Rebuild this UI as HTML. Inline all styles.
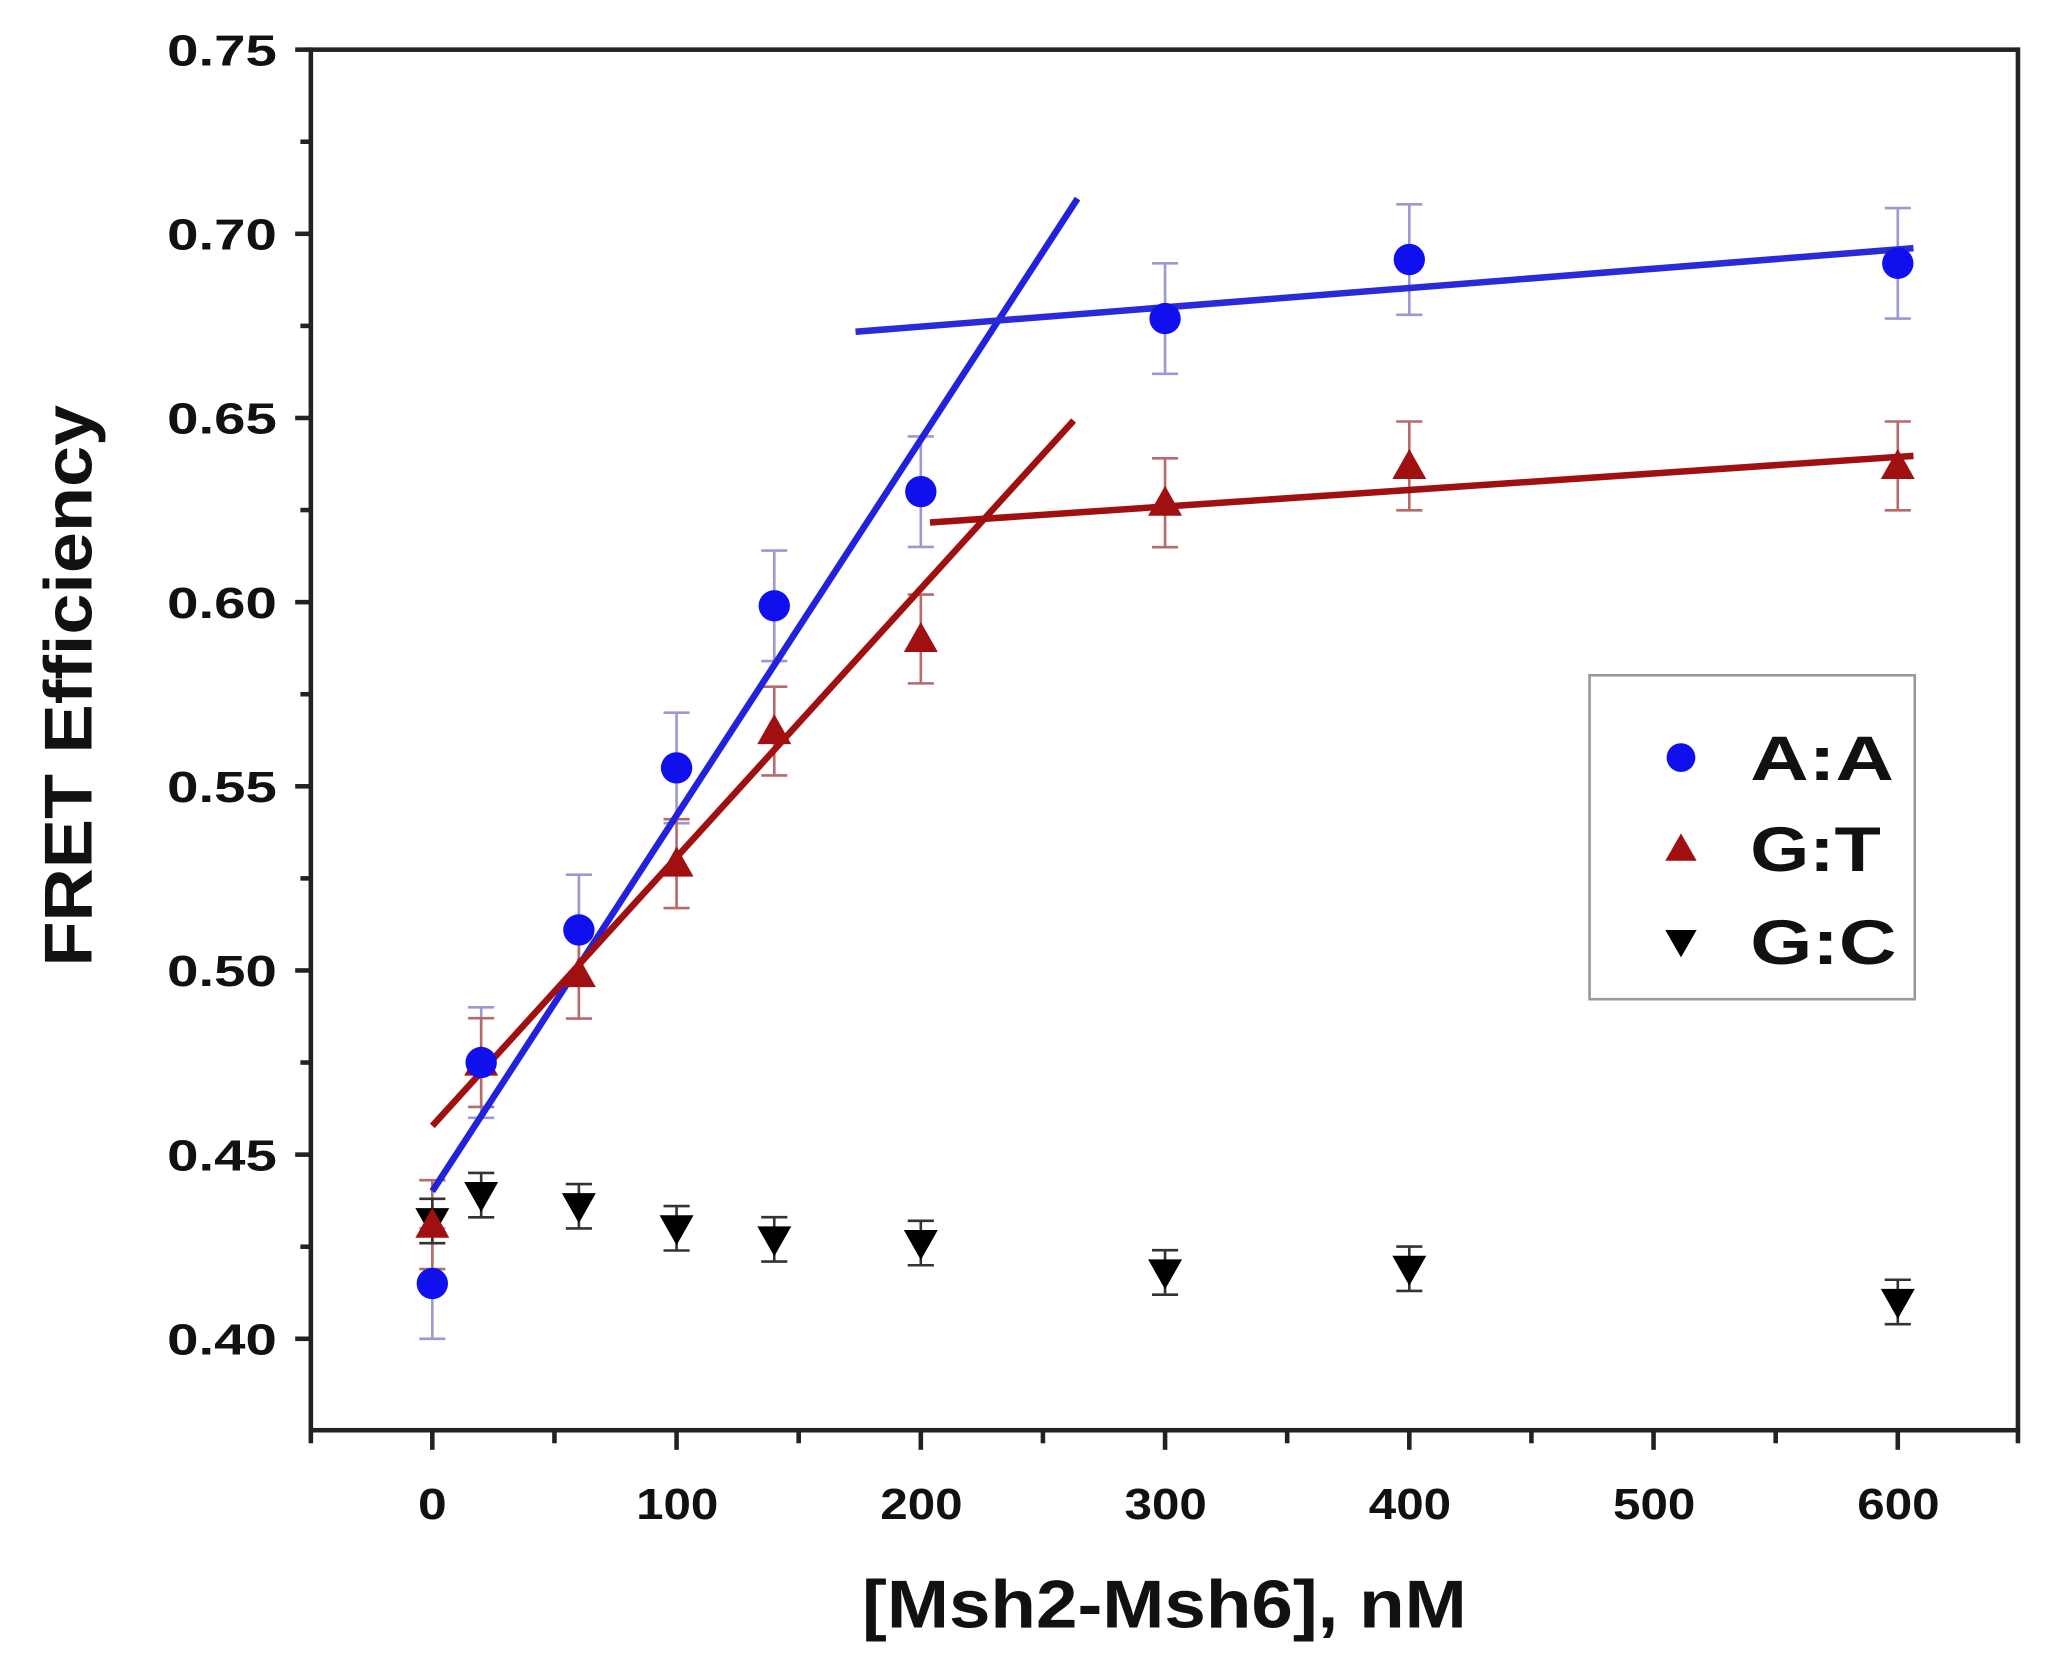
<!DOCTYPE html><html><head><style>html,body{margin:0;padding:0;background:#fff}svg{display:block}</style></head><body>
<svg width="2048" height="1675" viewBox="0 0 1568 1282.4" xmlns="http://www.w3.org/2000/svg" font-family="Liberation Sans, Arial, sans-serif" font-weight="bold">
<rect x="0" y="0" width="1568" height="1283" fill="#fff"/>
<rect x="238" y="38" width="1307" height="1057" fill="none" stroke="#222" stroke-width="3.5"/>
<g stroke="#222" stroke-width="3.5">
<line x1="226" y1="38" x2="238" y2="38"/><line x1="230" y1="108.5" x2="238" y2="108.5"/>
<line x1="226" y1="179" x2="238" y2="179"/><line x1="230" y1="249.5" x2="238" y2="249.5"/>
<line x1="226" y1="320" x2="238" y2="320"/><line x1="230" y1="390.5" x2="238" y2="390.5"/>
<line x1="226" y1="461" x2="238" y2="461"/><line x1="230" y1="531.5" x2="238" y2="531.5"/>
<line x1="226" y1="602" x2="238" y2="602"/><line x1="230" y1="672.5" x2="238" y2="672.5"/>
<line x1="226" y1="743" x2="238" y2="743"/><line x1="230" y1="813.5" x2="238" y2="813.5"/>
<line x1="226" y1="884" x2="238" y2="884"/><line x1="230" y1="954.5" x2="238" y2="954.5"/>
<line x1="226" y1="1025" x2="238" y2="1025"/>
<line x1="238" y1="1095" x2="238" y2="1105"/>
<line x1="331" y1="1095" x2="331" y2="1110"/><line x1="424.5" y1="1095" x2="424.5" y2="1105"/>
<line x1="518" y1="1095" x2="518" y2="1110"/><line x1="611.5" y1="1095" x2="611.5" y2="1105"/>
<line x1="705" y1="1095" x2="705" y2="1110"/><line x1="798.5" y1="1095" x2="798.5" y2="1105"/>
<line x1="892" y1="1095" x2="892" y2="1110"/><line x1="985.5" y1="1095" x2="985.5" y2="1105"/>
<line x1="1079" y1="1095" x2="1079" y2="1110"/><line x1="1172.5" y1="1095" x2="1172.5" y2="1105"/>
<line x1="1266" y1="1095" x2="1266" y2="1110"/><line x1="1359.5" y1="1095" x2="1359.5" y2="1105"/>
<line x1="1453" y1="1095" x2="1453" y2="1110"/><line x1="1545" y1="1095" x2="1545" y2="1105"/>
</g>
<g font-size="33" fill="#111">
<text x="128" y="50" textLength="84" lengthAdjust="spacingAndGlyphs">0.75</text>
<text x="128" y="191" textLength="84" lengthAdjust="spacingAndGlyphs">0.70</text>
<text x="128" y="332" textLength="84" lengthAdjust="spacingAndGlyphs">0.65</text>
<text x="128" y="473" textLength="84" lengthAdjust="spacingAndGlyphs">0.60</text>
<text x="128" y="614" textLength="84" lengthAdjust="spacingAndGlyphs">0.55</text>
<text x="128" y="755" textLength="84" lengthAdjust="spacingAndGlyphs">0.50</text>
<text x="128" y="896" textLength="84" lengthAdjust="spacingAndGlyphs">0.45</text>
<text x="128" y="1037" textLength="84" lengthAdjust="spacingAndGlyphs">0.40</text>
</g>
<g font-size="33" fill="#111">
<text x="320" y="1163" textLength="22" lengthAdjust="spacingAndGlyphs">0</text>
<text x="487" y="1163" textLength="63" lengthAdjust="spacingAndGlyphs">100</text>
<text x="674" y="1163" textLength="63" lengthAdjust="spacingAndGlyphs">200</text>
<text x="861" y="1163" textLength="63" lengthAdjust="spacingAndGlyphs">300</text>
<text x="1048" y="1163" textLength="63" lengthAdjust="spacingAndGlyphs">400</text>
<text x="1235" y="1163" textLength="63" lengthAdjust="spacingAndGlyphs">500</text>
<text x="1422" y="1163" textLength="63" lengthAdjust="spacingAndGlyphs">600</text>
</g>
<text x="660" y="1246" font-size="52" fill="#111" textLength="463" lengthAdjust="spacingAndGlyphs">[Msh2-Msh6], nM</text>
<text transform="translate(70,740) rotate(-90)" font-size="52" fill="#111" textLength="430" lengthAdjust="spacingAndGlyphs">FRET Efficiency</text>

<g stroke="#9a9ad0" stroke-width="2">
<path d="M331 940.4V1025M321 1025h20M321 940.4h20"/>
<path d="M368.4 771.2V855.8M358.4 771.2h20M358.4 855.8h20"/>
<path d="M443.2 669.7V754.3M433.2 669.7h20M433.2 754.3h20"/>
<path d="M518 545.6V630.2M508 545.6h20M508 630.2h20"/>
<path d="M592.8 421.5V506.1M582.8 421.5h20M582.8 506.1h20"/>
<path d="M705 334.1V418.7M695 334.1h20M695 418.7h20"/>
<path d="M892 201.6V286.2M882 201.6h20M882 286.2h20"/>
<path d="M1079 156.4V241M1069 156.4h20M1069 241h20"/>
<path d="M1453 159.3V243.9M1443 159.3h20M1443 243.9h20"/>
</g>
<g stroke="#b86a6a" stroke-width="2">
<path d="M331 903.6V971.6M321 903.6h20M321 971.6h20"/>
<path d="M368.4 779.5V847.5M358.4 779.5h20M358.4 847.5h20"/>
<path d="M443.2 711.8V779.8M433.2 711.8h20M433.2 779.8h20"/>
<path d="M518 627.2V695.2M508 627.2h20M508 695.2h20"/>
<path d="M592.8 525.7V593.7M582.8 525.7h20M582.8 593.7h20"/>
<path d="M705 455.2V523.2M695 455.2h20M695 523.2h20"/>
<path d="M892 350.9V418.9M882 350.9h20M882 418.9h20"/>
<path d="M1079 322.7V390.7M1069 322.7h20M1069 390.7h20"/>
<path d="M1453 322.7V390.7M1443 322.7h20M1443 390.7h20"/>
</g>
<g stroke="#333" stroke-width="2">
<path d="M331 917.8V951.8M321 917.8h20M321 951.8h20"/>
<path d="M368.4 898V932M358.4 898h20M358.4 932h20"/>
<path d="M443.2 906.5V940.5M433.2 906.5h20M433.2 940.5h20"/>
<path d="M518 923.4V957.4M508 923.4h20M508 957.4h20"/>
<path d="M592.8 931.9V965.9M582.8 931.9h20M582.8 965.9h20"/>
<path d="M705 934.7V968.7M695 934.7h20M695 968.7h20"/>
<path d="M892 957.2V991.2M882 957.2h20M882 991.2h20"/>
<path d="M1079 954.4V988.4M1069 954.4h20M1069 988.4h20"/>
<path d="M1453 979.8V1013.8M1443 979.8h20M1443 1013.8h20"/>
</g>
<g stroke-width="5">
<line x1="331" y1="912" x2="825" y2="152" stroke="#2222dd"/>
<line x1="655" y1="254" x2="1465" y2="190" stroke="#2a2ad8"/>
<line x1="331" y1="862" x2="822" y2="322" stroke="#a01010"/>
<line x1="712" y1="400" x2="1465" y2="349" stroke="#a01010"/>
</g>
<g fill="#000">
<polygon points="318,925 344,925 331,948"/><polygon points="355.4,905 381.4,905 368.4,928"/>
<polygon points="430.2,913.5 456.2,913.5 443.2,936.5"/><polygon points="505,930.4 531,930.4 518,953.4"/>
<polygon points="579.8,938.9 605.8,938.9 592.8,961.9"/><polygon points="692,941.7 718,941.7 705,964.7"/>
<polygon points="879,964.2 905,964.2 892,987.2"/><polygon points="1066,961.4 1092,961.4 1079,984.4"/>
<polygon points="1440,986.8 1466,986.8 1453,1009.8"/>
</g>
<g fill="#a01010">
<polygon points="331,924.6 318,947.6 344,947.6"/><polygon points="368.4,800.5 355.4,823.5 381.4,823.5"/>
<polygon points="443.2,732.8 430.2,755.8 456.2,755.8"/><polygon points="518,648.2 505,671.2 531,671.2"/>
<polygon points="592.8,546.7 579.8,569.7 605.8,569.7"/><polygon points="705,476.2 692,499.2 718,499.2"/>
<polygon points="892,371.9 879,394.9 905,394.9"/><polygon points="1079,343.7 1066,366.7 1092,366.7"/>
<polygon points="1453,343.7 1440,366.7 1466,366.7"/>
</g>
<g fill="#1010ee">
<circle cx="331" cy="982.7" r="12"/><circle cx="368.4" cy="813.5" r="12"/><circle cx="443.2" cy="712" r="12"/>
<circle cx="518" cy="587.9" r="12"/><circle cx="592.8" cy="463.8" r="12"/><circle cx="705" cy="376.4" r="12"/>
<circle cx="892" cy="243.9" r="12"/><circle cx="1079" cy="198.7" r="12"/><circle cx="1453" cy="201.6" r="12"/>
</g>
<rect x="1217" y="517" width="249" height="248" fill="#fff" stroke="#999" stroke-width="2"/>
<circle cx="1287" cy="580" r="11" fill="#1010ee"/>
<polygon points="1287,638 1275,659 1299,659" fill="#a01010"/>
<polygon points="1275,712 1299,712 1287,733" fill="#000"/>
<g font-size="48" fill="#111">
<text x="1340" y="597" textLength="110" lengthAdjust="spacingAndGlyphs">A:A</text>
<text x="1340" y="667" textLength="100" lengthAdjust="spacingAndGlyphs">G:T</text>
<text x="1340" y="738" textLength="112" lengthAdjust="spacingAndGlyphs">G:C</text>
</g>
</svg>
</body></html>
